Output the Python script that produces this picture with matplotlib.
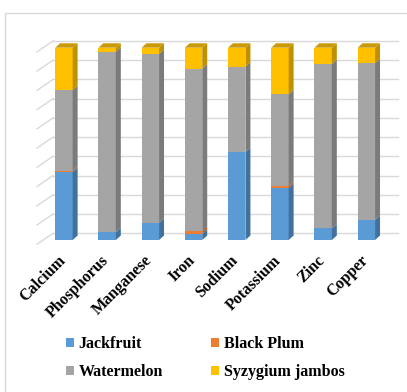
import numpy as np
import matplotlib.pyplot as plt
from matplotlib.patches import Polygon, Rectangle, Patch

minerals = ['Calcium', 'Phosphorus', 'Manganese', 'Iron', 'Sodium', 'Potassium', 'Zinc', 'Copper']
jackfruit = [35.4, 4.0, 9.0, 3.3, 45.8, 27.1, 6.0, 10.4]
black_plum = [0.7, 0.0, 0.0, 1.4, 0.0, 1.0, 0.0, 0.0]
watermelon = [41.9, 94.0, 87.7, 84.4, 44.4, 47.7, 85.5, 81.5]
syzygium = [22.0, 2.0, 3.3, 10.9, 9.8, 24.2, 8.5, 8.1]

names = ['Jackfruit', 'Black Plum', 'Watermelon', 'Syzygium jambos']
front = ['#5B9BD5', '#ED7D31', '#A5A5A5', '#FFC000']
side = ['#41719C', '#B35A1F', '#7B7B7B', '#BF9000']

plt.rcParams['font.family'] = ['Liberation Serif', 'DejaVu Serif']

W, H = 407, 392
fig = plt.figure(figsize=(W / 100, H / 100), dpi=100)

# chart frame
fig.patches.append(Rectangle((4.5 / W, -0.1), 1.2, 1 - 12.5 / H + 0.1, transform=fig.transFigure,
                             fill=False, edgecolor='#D9D9D9', linewidth=1))

L, R, T, B = 30, 400, 30, 250
ax = fig.add_axes([L / W, 1 - B / H, (R - L) / W, (B - T) / H])
x0, step, pxy, y0px = 63.9, 43.2, 1.923, 240
ax.set_xlim((L - x0) / step, (R - x0) / step)
ax.set_ylim((y0px - B) / pxy, (y0px - T) / pxy)
ax.axis('off')

# gridlines on back wall with short side-wall stubs
xb_left, xb_right, xf_left = (53 - x0) / step, (398 - x0) / step, (37 - x0) / step
for k in range(11):
    yb = 10 * k + 3.5
    ax.plot([xb_left, xb_right], [yb, yb], color='#D9D9D9', lw=1, zorder=1)
    ax.plot([xf_left, xb_left], [10 * k - 2.2, yb], color='#D9D9D9', lw=1, zorder=1)

x = np.arange(len(minerals))
w, dx, dy = 0.405, 0.115, 2.3
series = [jackfruit, black_plum, watermelon, syzygium]
bottom = np.zeros(len(minerals))
for vals, fc, sc, nm in zip(series, front, side, names):
    vals = np.array(vals)
    ax.bar(x, vals, width=w, bottom=bottom, color=fc, linewidth=0, zorder=3)
    for i in range(len(x)):
        if vals[i] <= 0:
            continue
        b, t = bottom[i], bottom[i] + vals[i]
        xr = x[i] + w / 2
        ax.add_patch(Polygon([(xr, b), (xr + dx, b + dy), (xr + dx, t + dy), (xr, t)],
                             closed=True, facecolor=sc, edgecolor='none', zorder=3))
    bottom = bottom + vals

for i in range(len(x)):
    top = bottom[i]
    xl = x[i] - w / 2
    ax.add_patch(Polygon([(xl, top), (xl + dx, top + dy), (xl + w + dx, top + dy), (xl + w, top)],
                         closed=True, facecolor='#C99A06', edgecolor='none', zorder=3))
    ax.text(x[i] - 0.02, (y0px - 258) / pxy, minerals[i], rotation=45, rotation_mode='anchor',
            ha='right', va='center', fontsize=11.5, fontweight='bold', clip_on=False)

handles = [Patch(facecolor=c, edgecolor='none') for c in front]
order = [0, 2, 1, 3]  # legend fills by column
leg = fig.legend([handles[i] for i in order], [names[i] for i in order], ncol=2,
                 loc='upper left', bbox_to_anchor=(58 / W, 1 - 328 / H), frameon=False,
                 prop={'weight': 'bold', 'size': 11.5}, handlelength=0.5, handleheight=0.5,
                 handletextpad=0.3, columnspacing=3.0, labelspacing=0.75, borderpad=0)

fig.savefig('out.png', dpi=100)
